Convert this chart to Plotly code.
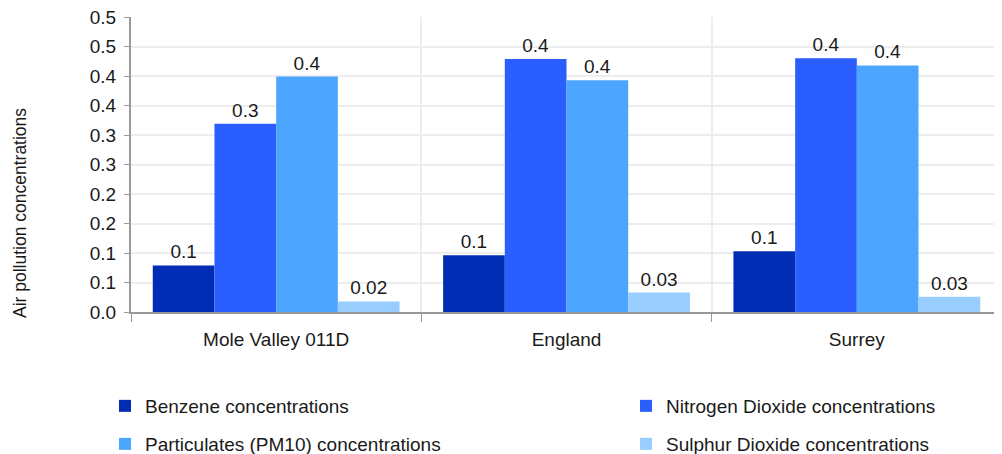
import plotly.graph_objects as go

# areas on the x axis
areas = ['Mole Valley 011D', 'England', 'Surrey']

# one list per pollutant
benzene = [0.079, 0.096, 0.103]
nitrogen_dioxide = [0.319, 0.429, 0.430]
particulates = [0.399, 0.393, 0.418]
sulphur_dioxide = [0.018, 0.033, 0.026]

# labels printed over the bars
benzene_text = ['0.1', '0.1', '0.1']
nitrogen_dioxide_text = ['0.3', '0.4', '0.4']
particulates_text = ['0.4', '0.4', '0.4']
sulphur_dioxide_text = ['0.02', '0.03', '0.03']

series_names = ['Benzene concentrations', 'Nitrogen Dioxide concentrations',
                'Particulates (PM10) concentrations', 'Sulphur Dioxide concentrations']

y_title = 'Air pollution concentrations'
y_tickvals = [0, 0.05, 0.1, 0.15, 0.2, 0.25, 0.3, 0.35, 0.4, 0.45, 0.5]
y_ticktext = ['0.0', '0.1', '0.1', '0.2', '0.2', '0.3', '0.3', '0.4', '0.4', '0.5', '0.5']

colors = ['#002db3', '#2b5eff', '#4ca6ff', '#99ccff']
font = 'Liberation Sans, Arial, sans-serif'
fsize = 19

# page body has an 8px margin, so the figure is a bit smaller than the window
W, H = 994, 446

series = [benzene, nitrogen_dioxide, particulates, sulphur_dioxide]
texts = [benzene_text, nitrogen_dioxide_text, particulates_text, sulphur_dioxide_text]
legend_ids = ['legend', 'legend2', 'legend3', 'legend4']

fig = go.Figure()
for vals, txt, name, col, leg in zip(series, texts, series_names, colors, legend_ids):
    fig.add_trace(go.Bar(
        x=areas, y=vals, name=name,
        marker=dict(color=col, line=dict(width=0)),
        text=txt, textposition='outside', cliponaxis=False,
        textfont=dict(size=fsize, color='#1a1a1a'),
        legend=leg,
    ))

# each legend entry gets its own box: 2 columns x 2 rows
def legend_box(x_px, y_px):
    return dict(
        orientation='h',
        xref='container', yref='container',
        x=x_px / W, y=1 - y_px / H,
        xanchor='left', yanchor='middle',
        font=dict(size=fsize, color='#1a1a1a'),
        bgcolor='rgba(0,0,0,0)',
    )

# y title sits lower than the plot centre in the original, so it is an annotation
fig.add_annotation(
    text=y_title, textangle=-90, showarrow=False,
    xref='paper', yref='paper', x=-0.1274, y=0.3356,
    xanchor='center', yanchor='middle',
    font=dict(size=17.5, color='#1a1a1a'),
)

fig.update_layout(
    barmode='group', bargap=0.15, bargroupgap=0,
    width=W, height=H,
    margin=dict(l=123, r=0, t=9, b=142),
    plot_bgcolor='white', paper_bgcolor='white',
    font=dict(family=font, size=fsize, color='#1a1a1a'),
    showlegend=True,
    legend=legend_box(97, 398),
    legend2=legend_box(618, 398),
    legend3=legend_box(97, 436),
    legend4=legend_box(618, 436),
    xaxis=dict(
        automargin=False,
        tickson='boundaries', ticks='outside', ticklen=8, tickcolor='#999999',
        ticklabelstandoff=9,
        showline=True, linecolor='#999999', linewidth=2,
        showgrid=True, gridcolor='#ededed', gridwidth=2,
        tickfont=dict(size=fsize),
    ),
    yaxis=dict(
        automargin=False,
        range=[0, 0.5], tickvals=y_tickvals, ticktext=y_ticktext,
        ticks='outside', ticklen=5, tickcolor='#999999',
        ticklabelstandoff=4, ticklabeloverflow='allow',
        showline=True, linecolor='#999999', linewidth=2,
        showgrid=True, gridcolor='#ededed', gridwidth=2,
        zeroline=False,
        tickfont=dict(size=fsize),
    ),
)

fig.write_html("out.html")
